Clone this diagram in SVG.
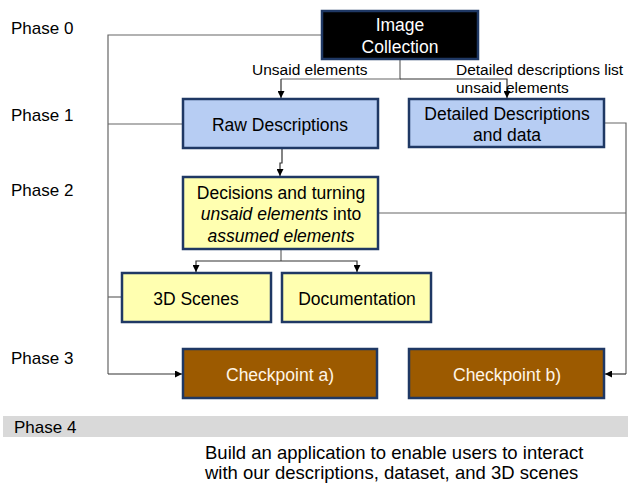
<svg xmlns="http://www.w3.org/2000/svg" width="628" height="485" viewBox="0 0 628 485">
<style>
text{font-family:"Liberation Sans",Arial,sans-serif;fill:#000}
.ph{font-size:17px}
.bx{font-size:17.5px;text-anchor:middle}
.lb{font-size:15.5px}
.blue{fill:#b7cdf3;stroke:#1f3864;stroke-width:2.5}
.yel{fill:#ffffb0;stroke:#1f3864;stroke-width:2.5}
.brn{fill:#9c5a00;stroke:#1f3864;stroke-width:2.5}
.ln{fill:none;stroke:#666;stroke-width:1.2}
.ar{fill:none;stroke:#333;stroke-width:1.2;marker-end:url(#ah)}
</style>
<defs>
<marker id="ah" viewBox="0 0 10 10" refX="10" refY="5" markerWidth="7" markerHeight="7" markerUnits="userSpaceOnUse" orient="auto">
<path d="M0,0L10,5L0,10z" fill="#000"/>
</marker>
</defs>
<rect width="628" height="485" fill="#fff"/>
<g id="phases">
<text class="ph" x="11" y="34">Phase 0</text>
<text class="ph" x="11" y="121">Phase 1</text>
<text class="ph" x="11" y="196">Phase 2</text>
<text class="ph" x="11" y="364">Phase 3</text>
<rect x="3" y="416" width="625" height="21" fill="#d9d9d9"/>
<text class="ph" x="14" y="433">Phase 4</text>
</g>
<g id="connectors">
<path class="ln" d="M322,35H108V374"/>
<path class="ar" d="M108,374H182"/>
<path class="ln" d="M183,124H108"/>
<path class="ln" d="M122,297H108"/>
<path class="ln" d="M604,123H626V374"/>
<path class="ln" d="M378,213H626"/>
<path class="ar" d="M626,374H605"/>
<path class="ln" d="M400,59V79H281"/>
<path class="ar" d="M281,79V98"/>
<path class="ar" d="M400,79H507V98"/>
<path class="ar" d="M282,148V163H280V176"/>
<path class="ln" d="M281,249V261"/>
<path class="ar" d="M281,261H196V272"/>
<path class="ar" d="M281,261H357V272"/>
<text class="lb" x="252" y="75">Unsaid elements</text>
<text class="lb" x="456" y="75">Detailed descriptions list</text>
<text class="lb" x="456" y="93">unsaid  elements</text>
</g>
<g id="image-collection">
<rect x="322" y="11" width="156" height="48" fill="#000" stroke="#1f3864" stroke-width="2.5"/>
<text class="bx" x="400" y="31" style="fill:#fff">Image</text>
<text class="bx" x="400" y="53" style="fill:#fff">Collection</text>
</g>
<g id="raw-descriptions">
<rect class="blue" x="183" y="99" width="195" height="49"/>
<text class="bx" x="280" y="131">Raw Descriptions</text>
</g>
<g id="detailed-descriptions">
<rect class="blue" x="409" y="99" width="195" height="48"/>
<text class="bx" x="507" y="120">Detailed Descriptions</text>
<text class="bx" x="507" y="141">and data</text>
</g>
<g id="decisions">
<rect class="yel" x="183" y="177" width="195" height="72"/>
<text class="bx" x="281" y="199">Decisions and turning</text>
<text class="bx" x="281" y="220"><tspan font-style="italic">unsaid elements</tspan> into</text>
<text class="bx" x="281" y="242" font-style="italic">assumed elements</text>
</g>
<g id="scenes">
<rect class="yel" x="122" y="273" width="149" height="49"/>
<text class="bx" x="196" y="305">3D Scenes</text>
</g>
<g id="documentation">
<rect class="yel" x="282" y="273" width="149" height="49"/>
<text class="bx" x="357" y="305">Documentation</text>
</g>
<g id="checkpoint-a">
<rect class="brn" x="183" y="349" width="194" height="49"/>
<text class="bx" x="280" y="381" style="fill:#fff5e6">Checkpoint a)</text>
</g>
<g id="checkpoint-b">
<rect class="brn" x="409" y="349" width="195" height="49"/>
<text class="bx" x="507" y="381" style="fill:#fff5e6">Checkpoint b)</text>
</g>
<g id="app-note">
<text x="205" y="459" font-size="18.5">Build an application to enable users to interact</text>
<text x="205" y="479" font-size="18.5">with our descriptions, dataset, and 3D scenes</text>
</g>
</svg>
